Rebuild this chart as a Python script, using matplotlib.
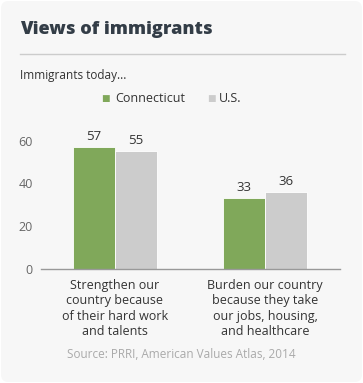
import matplotlib.pyplot as plt
import numpy as np
from matplotlib.patches import FancyBboxPatch
from matplotlib.lines import Line2D

plt.rcParams['font.family'] = ['Open Sans', 'DejaVu Sans']

categories = ['Strengthen our\ncountry because\nof their hard work\nand talents',
              'Burden our country\nbecause they take\nour jobs, housing,\nand healthcare']
connecticut = [57, 33]
us = [55, 36]
series_names = ['Connecticut', 'U.S.']
colors = ['#80a85a', '#cccccc']

W, H = 363, 383
fig = plt.figure(figsize=(W / 100, H / 100), dpi=100)
fig.patch.set_facecolor('white')

# card background
card = FancyBboxPatch((1 / W, 1 / H), 1 - 2 / W, 1 - 2 / H,
                      boxstyle='round,pad=0,rounding_size=0.02',
                      transform=fig.transFigure, facecolor='#f7f7f7',
                      edgecolor='none', zorder=-10)
fig.patches.append(card)

def fx(px):
    return px / W

def fy(py):
    return 1 - py / H

fig.text(fx(20), fy(30), 'Views of immigrants', fontsize=13.1, fontweight='heavy',
         color='#333d47', va='center', ha='left')
fig.add_artist(Line2D([fx(20), fx(345)], [fy(54), fy(54)], color='#cccccc', lw=1))
fig.text(fx(20), fy(75), 'Immigrants today...', fontsize=8.5, color='#333333',
         va='center', ha='left')

# legend
fig.text(fx(101), fy(99), '\u25a0', fontsize=6.5, color=colors[0], va='center', ha='left',
         family='DejaVu Sans')
fig.text(fx(115), fy(99), series_names[0], fontsize=9, color='#333333', va='center')
fig.text(fx(207), fy(99), '\u25a0', fontsize=6.5, color=colors[1], va='center', ha='left',
         family='DejaVu Sans')
fig.text(fx(219), fy(99), series_names[1], fontsize=9, color='#333333', va='center')

ymax = 65
ax_bottom = 269
ax_top = ax_bottom - ymax * 2.14
ax = fig.add_axes([fx(41), fy(ax_bottom), fx(340) - fx(41), (ax_bottom - ax_top) / H])
ax.set_facecolor('none')

x = np.arange(len(categories))
bw = 0.275
b1 = ax.bar(x - 0.14, connecticut, bw, color=colors[0], edgecolor='white', lw=0.6)
b2 = ax.bar(x + 0.14, us, bw, color=colors[1], edgecolor='white', lw=0.6)
for bars in (b1, b2):
    for r in bars:
        ax.annotate(f'{r.get_height():.0f}', (r.get_x() + r.get_width() / 2, r.get_height()),
                    xytext=(0, 3), textcoords='offset points', ha='center', va='bottom',
                    fontsize=9.5, color='#333333')

ax.set_xlim((41 - 115) / 150, (340 - 115) / 150)
ax.set_ylim(0, ymax)
ax.set_yticks([0, 20, 40, 60])
ax.tick_params(axis='y', length=0, labelsize=9, labelcolor='#666666', pad=6)
ax.set_xticks(x)
ax.set_xticklabels(categories)
ax.tick_params(axis='x', length=0, labelsize=9, labelcolor='#333333', pad=7)
for t in ax.get_xticklabels():
    t.set_linespacing(1.25)
for s in ['top', 'right', 'left']:
    ax.spines[s].set_visible(False)
ax.spines['bottom'].set_color('#999999')
ax.spines['bottom'].set_linewidth(1)

fig.text(fx(181), fy(355), 'Source: PRRI, American Values Atlas, 2014', fontsize=8.5,
         color='#aaaaaa', ha='center', va='center')

fig.savefig('out.png', dpi=100, facecolor=fig.get_facecolor())
